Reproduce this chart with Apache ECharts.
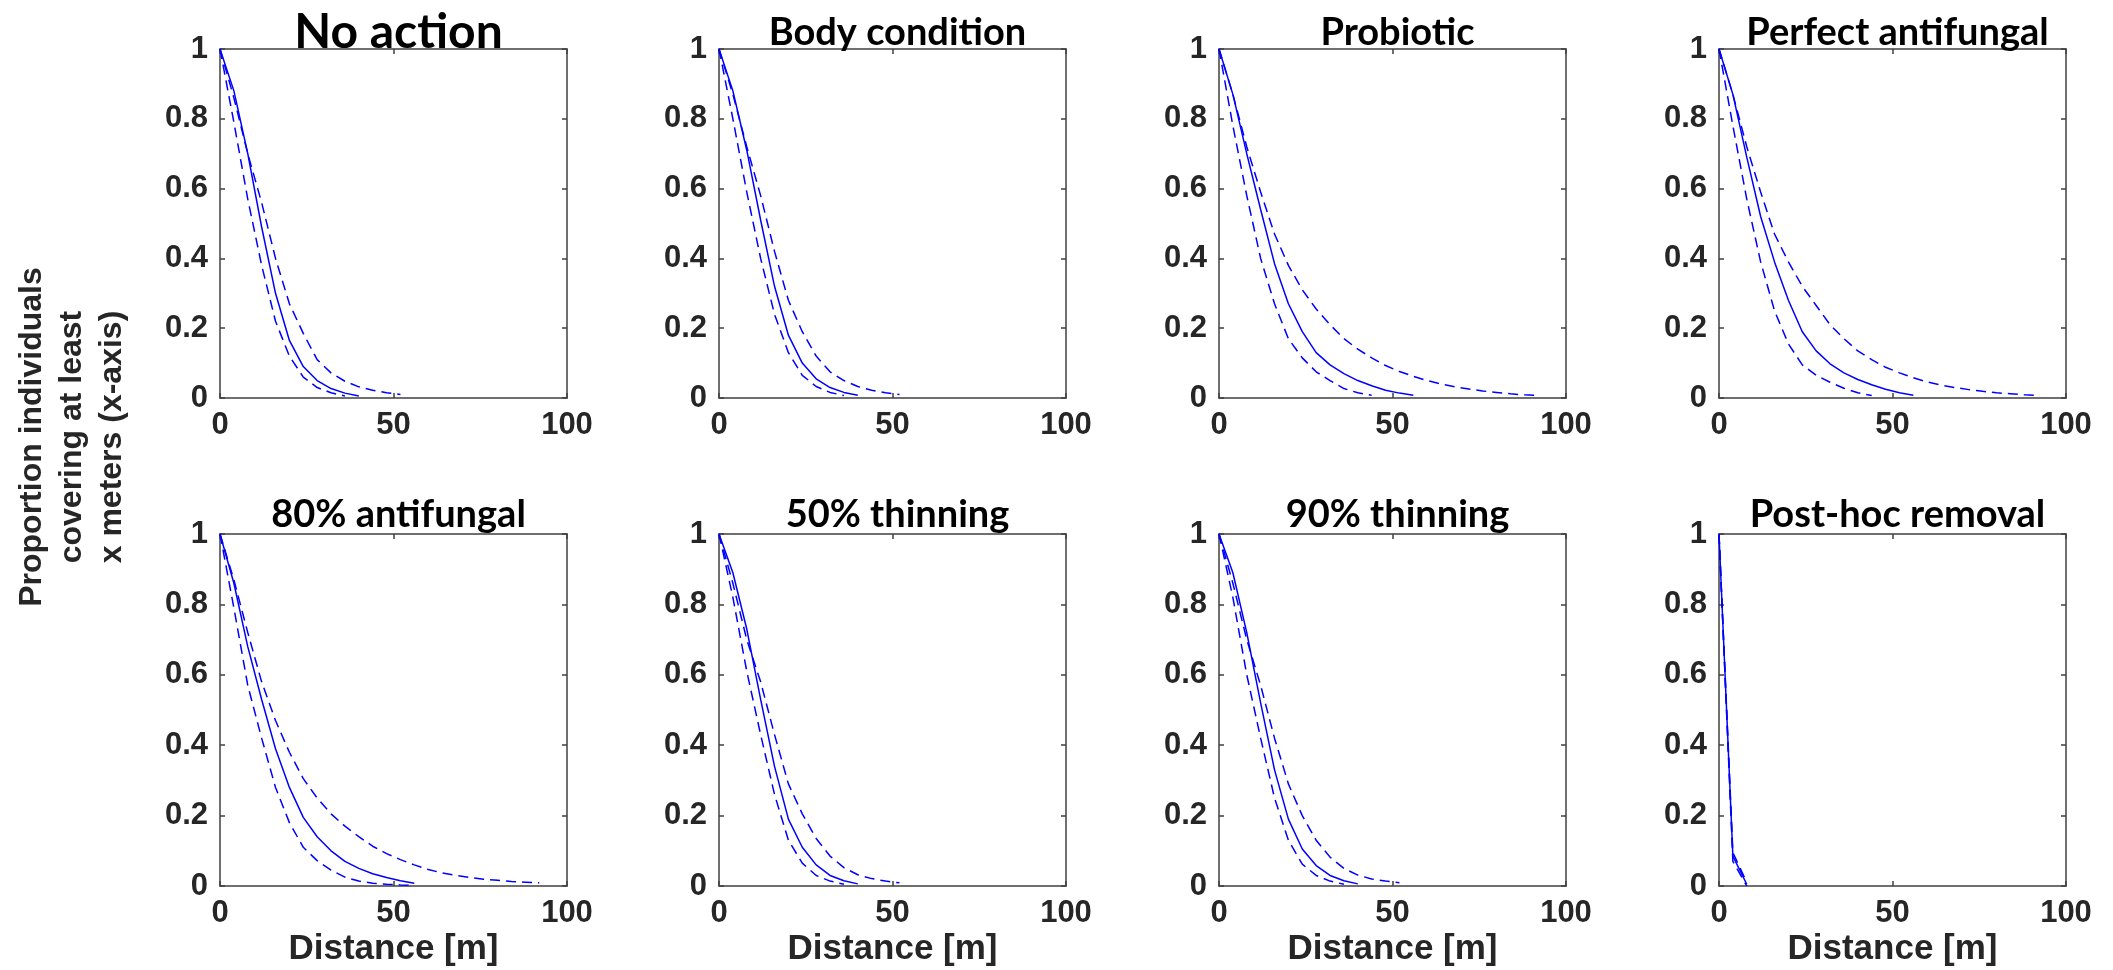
<!DOCTYPE html>
<html><head><meta charset="utf-8">
<script src="https://cdn.jsdelivr.net/npm/echarts@6/dist/echarts.min.js"></script>
<style>html,body{margin:0;padding:0;background:#fff}#c{width:2113px;height:970px}</style>
</head><body><div id="c"></div>
<script>
// ---- data ----
const distance = [0,4,8,12,16,20,24,28,32,36,40,44,48,52,56,60,64,68,72,76,80,84,88,92];
const xTicks = [0, 50, 100];
const yTicks = [0, 0.2, 0.4, 0.6, 0.8, 1];
const panelTitles = ['No action','Body condition','Probiotic','Perfect antifungal',
                     '80% antifungal','50% thinning','90% thinning','Post-hoc removal'];

const noActionMean = [1,0.88,0.70,0.49,0.30,0.165,0.09,0.05,0.027,0.014,0.006];
const noActionLow  = [1,0.79,0.57,0.38,0.22,0.12,0.06,0.03,0.015,0.006];
const noActionHigh = [1,0.86,0.70,0.56,0.40,0.27,0.185,0.11,0.072,0.048,0.032,0.022,0.015,0.01];

const bodyMean = [1,0.88,0.71,0.51,0.32,0.18,0.10,0.055,0.03,0.016,0.008];
const bodyLow  = [1,0.80,0.59,0.40,0.24,0.13,0.065,0.033,0.016,0.007];
const bodyHigh = [1,0.87,0.72,0.58,0.42,0.28,0.19,0.12,0.075,0.05,0.033,0.022,0.015,0.01];

const probioticMean = [1,0.87,0.70,0.54,0.385,0.27,0.19,0.13,0.095,0.07,0.05,0.035,0.022,0.014,0.008];
const probioticLow  = [1,0.78,0.58,0.40,0.27,0.17,0.115,0.075,0.05,0.027,0.015,0.008];
const probioticHigh = [1,0.87,0.72,0.59,0.47,0.38,0.31,0.255,0.21,0.17,0.14,0.115,0.093,0.076,0.062,0.05,0.04,0.032,0.026,0.02,0.016,0.012,0.009,0.007];

const perfectMean = [1,0.87,0.69,0.52,0.39,0.28,0.19,0.135,0.098,0.072,0.053,0.038,0.025,0.015,0.008];
const perfectLow  = [1,0.78,0.57,0.39,0.25,0.155,0.095,0.065,0.045,0.028,0.015,0.007];
const perfectHigh = [1,0.87,0.72,0.59,0.47,0.39,0.32,0.265,0.21,0.17,0.135,0.11,0.088,0.072,0.058,0.046,0.037,0.03,0.024,0.019,0.015,0.012,0.009,0.007];

const af80Mean = [1,0.86,0.68,0.53,0.39,0.28,0.195,0.14,0.10,0.07,0.05,0.035,0.024,0.015,0.008];
const af80Low  = [1,0.79,0.57,0.42,0.28,0.18,0.11,0.072,0.045,0.025,0.014,0.008,0.005,0.003,0.002];
const af80High = [1,0.87,0.72,0.58,0.47,0.38,0.305,0.25,0.205,0.17,0.14,0.113,0.092,0.075,0.06,0.047,0.037,0.03,0.024,0.019,0.016,0.013,0.011,0.009];

const thin50Mean = [1,0.89,0.73,0.53,0.34,0.19,0.11,0.06,0.03,0.015,0.006];
const thin50Low  = [1,0.82,0.61,0.43,0.26,0.13,0.065,0.03,0.014,0.005];
const thin50High = [1,0.86,0.70,0.58,0.43,0.29,0.205,0.135,0.085,0.052,0.032,0.021,0.014,0.009];

const thin90Mean = [1,0.89,0.72,0.52,0.33,0.19,0.105,0.058,0.03,0.015,0.006];
const thin90Low  = [1,0.82,0.60,0.42,0.25,0.13,0.062,0.03,0.014,0.005];
const thin90High = [1,0.86,0.70,0.57,0.42,0.29,0.20,0.13,0.082,0.05,0.031,0.02,0.014,0.009];

const postHocMean = [1,0.085,0.005];
const postHocLow  = [1,0.07,0.0];
const postHocHigh = [1,0.095,0.01];

const panelMeans = [noActionMean, bodyMean, probioticMean, perfectMean, af80Mean, thin50Mean, thin90Mean, postHocMean];
const panelLows  = [noActionLow, bodyLow, probioticLow, perfectLow, af80Low, thin50Low, thin90Low, postHocLow];
const panelHighs = [noActionHigh, bodyHigh, probioticHigh, perfectHigh, af80High, thin50High, thin90High, postHocHigh];

// ---- layout / style ----
const colLeft = [220, 719, 1219, 1719];
const plotW = 347;
const rowTop = [49, 534];
const rowH = [349, 352];
const axisColor = '#404040';
const textColor = '#262626';
const lineBlue = '#0000ff';
const tickFont = 'Liberation Sans';

function pts(arr) { return arr.map((v, i) => [distance[i], v]); }

const grids = [], xAxes = [], yAxes = [], series = [], titles = [];
for (let i = 0; i < 8; i++) {
  const r = Math.floor(i / 4), c = i % 4;
  grids.push({ left: colLeft[c], top: rowTop[r], width: plotW, height: rowH[r], containLabel: false });
  const lineSt = { color: axisColor, width: 1.5 };
  const tickSt = { inside: true, length: 5, lineStyle: { color: axisColor, width: 1.5 } };
  const lblSt = { fontFamily: tickFont, fontWeight: 'bold', fontSize: 31, color: textColor };
  xAxes.push({
    gridIndex: i, type: 'value', min: xTicks[0], max: xTicks[2], interval: xTicks[1] - xTicks[0],
    position: 'bottom', axisLine: { show: true, onZero: false, lineStyle: lineSt },
    axisTick: tickSt, splitLine: { show: false },
    axisLabel: Object.assign({ margin: 12 }, lblSt),
    name: r === 1 ? 'Distance [m]' : '', nameLocation: 'middle', nameGap: 46,
    nameTextStyle: { fontFamily: tickFont, fontWeight: 'bold', fontSize: 35, color: textColor }
  });
  xAxes.push({
    gridIndex: i, type: 'value', min: xTicks[0], max: xTicks[2], interval: xTicks[1] - xTicks[0],
    position: 'top', axisLine: { show: true, onZero: false, lineStyle: lineSt },
    axisTick: tickSt, splitLine: { show: false }, axisLabel: { show: false }
  });
  yAxes.push({
    gridIndex: i, type: 'value', min: yTicks[0], max: yTicks[yTicks.length - 1], interval: yTicks[1] - yTicks[0],
    position: 'left', axisLine: { show: true, onZero: false, lineStyle: lineSt },
    axisTick: tickSt, splitLine: { show: false },
    axisLabel: Object.assign({ margin: 12 }, lblSt)
  });
  yAxes.push({
    gridIndex: i, type: 'value', min: yTicks[0], max: yTicks[yTicks.length - 1], interval: yTicks[1] - yTicks[0],
    position: 'right', axisLine: { show: true, onZero: false, lineStyle: lineSt },
    axisTick: tickSt, splitLine: { show: false }, axisLabel: { show: false }
  });
  const common = { type: 'line', xAxisIndex: 2 * i, yAxisIndex: 2 * i, showSymbol: false, symbol: 'none',
                   silent: true, animation: false, clip: true, z: 3 };
  series.push(Object.assign({ data: pts(panelLows[i]), lineStyle: { color: lineBlue, width: 1.5, type: [10, 6] } }, common));
  series.push(Object.assign({ data: pts(panelHighs[i]), lineStyle: { color: lineBlue, width: 1.5, type: [10, 6] } }, common));
  series.push(Object.assign({ data: pts(panelMeans[i]), lineStyle: { color: lineBlue, width: 1.5, type: 'solid' } }, common));
  const big = i === 0;
  titles.push({
    text: panelTitles[i], left: colLeft[c] + plotW / 2, textAlign: 'center',
    top: big ? 4 : (r === 0 ? 9 : 491),
    textStyle: { fontFamily: 'Lato', fontWeight: 'bold', fontSize: big ? 48 : 38, color: '#000' }
  });
}

const chart = echarts.init(document.getElementById('c'), null, { renderer: 'canvas' });
chart.setOption({
  backgroundColor: '#ffffff',
  animation: false,
  title: titles,
  grid: grids,
  xAxis: xAxes,
  yAxis: yAxes,
  series: series,
  graphic: [{
    type: 'text', x: 72, y: 437, rotation: Math.PI / 2,
    style: {
      text: 'Proportion individuals\ncovering at least\nx meters (x-axis)',
      font: 'bold 32px "Liberation Sans"', fill: textColor,
      align: 'center', verticalAlign: 'middle', lineHeight: 40
    }
  }]
});
</script></body></html>
